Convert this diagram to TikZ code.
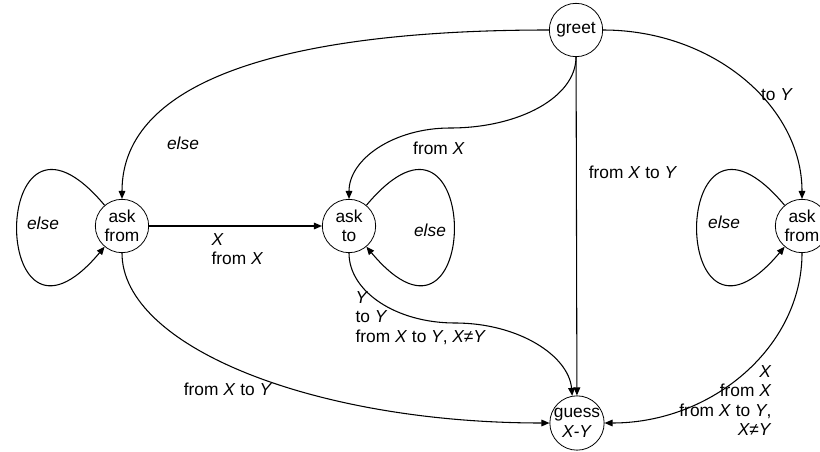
\documentclass[tikz,border=0pt]{standalone}
\usepackage{fontspec}
\setmainfont{Liberation Sans}
\usetikzlibrary{arrows.meta}

\begin{document}
\begin{tikzpicture}[x=0.75pt, y=0.75pt, line width=0.8pt,
  font=\fontsize{13}{14.6}\selectfont,
  state/.style={draw, circle, minimum size=40pt, inner sep=0pt, align=center, line width=0.6pt},
  tr/.style={-{Triangle[length=6pt,width=5pt]}},
  lbl/.style={inner sep=0pt}]
  \useasboundingbox (0,0) rectangle (820,451);
  \clip (0,0) rectangle (820,451);

  % states
  \node[state] (greet) at (576,421) {greet};
  \node[state] (askfromL) at (122,225) {ask\\from};
  \node[state] (askto) at (349,225) {ask\\to};
  \node[state] (askfromR) at (802,225) {ask\\from};
  \node[state] (guess) at (577,28) {guess\\\textit{X-Y}};
  \coordinate (gtmid) at (450,323);
  \coordinate (tgmid) at (455,128);

  % from greet
  \draw[tr] (greet.west) to[out=180, in=90, out distance=195pt, in distance=90pt] (askfromL.north);
  \draw[tr] (greet.south) to[out=-90, in=0, out distance=30pt, in distance=52pt] (gtmid)
    to[out=180, in=90, out distance=42pt, in distance=30pt] (askto.north);
  \draw[tr] (greet) -- (guess) node[lbl, pos=0.34, right=9pt] (lgg) {from \textit{X} to \textit{Y}};
  \draw[tr] (greet.east) to[out=0, in=90, out distance=82pt, in distance=70pt] (askfromR.north);
  \node[lbl] (lgl) at (183,308) {\textit{else}};
  \node[lbl] (lgt) at (439,303) {from \textit{X}};
  \node[lbl] (lgr) at (777,356) {to \textit{Y}};

  % self loops
  \draw[tr] (askfromL.130) to[out=130, in=230, distance=136pt] (askfromL.230);
  \draw[tr] (askto.50) to[out=50, in=-50, distance=136pt] (askto.-50);
  \draw[tr] (askfromR.130) to[out=130, in=230, distance=136pt] (askfromR.230);
  \node[lbl] (lll) at (43,228) {\textit{else}};
  \node[lbl] (ltt) at (430,221) {\textit{else}};
  \node[lbl] (lrr) at (724,229) {\textit{else}};

  % ask from -> ask to
  \draw[tr] (askfromL) -- (askto);
  \node[lbl, align=left, anchor=north west] (llt) at (211,218) {\textit{X}\\from \textit{X}};

  % into guess
  \draw[tr] (askfromL.south) to[out=-90, in=180, out distance=70pt, in distance=177pt] (guess.west);
  \draw[tr] (askto.south) to[out=-90, in=180, out distance=29pt, in distance=44pt] (tgmid)
    to[out=0, in=95, out distance=48pt, in distance=30pt] (guess.100);
  \draw[tr] (askfromR.south) to[out=-90, in=0, out distance=70pt, in distance=81pt] (guess.east);
  \node[lbl] (llg) at (228,62) {from \textit{X} to \textit{Y}};
  \node[lbl, align=left, anchor=north west] (ltg) at (355,160)
    {\textit{Y}\\to \textit{Y}\\from \textit{X} to \textit{Y}, \textit{X≠Y}};
  \node[lbl, align=right, anchor=north east] (lrg) at (772,86)
    {\textit{X}\\from \textit{X}\\from \textit{X} to \textit{Y},\\\textit{X≠Y}};
\end{tikzpicture}
\end{document}
